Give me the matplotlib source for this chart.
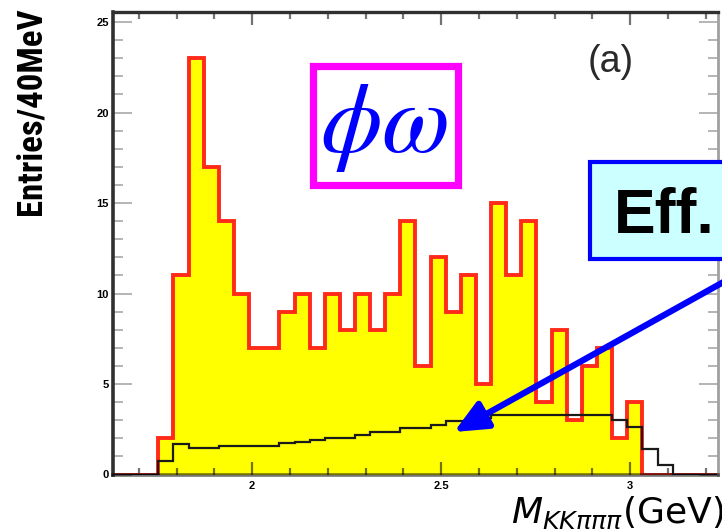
import matplotlib
matplotlib.use("Agg")
import matplotlib.pyplot as plt
from matplotlib import font_manager as fm
from matplotlib.patches import Rectangle
import numpy as np

# 40 MeV bins over the full axis range
BIN_LO, BIN_W, NBINS = 1.632, 0.04, 40
# phi-omega candidates per bin (bins 3..34 non-empty)
counts = [0, 0, 0,
          2, 11, 23, 17, 14, 10, 7, 7, 9, 10, 7, 10, 8, 10, 8, 10,
          14, 6, 12, 9, 11, 5, 15, 11, 14, 4, 8, 3, 6, 7, 2, 4,
          0, 0, 0, 0, 0]
# scaled efficiency curve (bins 3..36 non-empty)
eff = [0, 0, 0,
       0.77, 1.66, 1.47, 1.47, 1.60, 1.60, 1.60, 1.60, 1.75, 1.80,
       1.90, 2.00, 2.00, 2.18, 2.36, 2.36, 2.55, 2.55, 2.73, 2.96,
       2.96, 3.14, 3.29, 3.30, 3.30, 3.30, 3.28, 3.30, 3.30, 3.29,
       3.00, 2.60, 1.43, 0.50,
       0, 0, 0]
xticks_major = [2.0, 2.5, 3.0]
xtick_labels = ["2", "2.5", "3"]
yticks_major = [0, 5, 10, 15, 20, 25]

YELLOW, RED, BLUE, MAGENTA = "#ffff00", "#ff2a1a", "#0000ff", "#ff00ff"
SANS = ["Liberation Sans", "DejaVu Sans"]
W, H = 722, 530


def narrow_font():
    # the y title is a squeezed Helvetica; use a narrow face if one exists
    for name, size in [("Liberation Sans Narrow", 26), ("Roboto Condensed", 25)]:
        try:
            fm.findfont(fm.FontProperties(family=name, weight="bold"),
                        fallback_to_default=False)
            return dict(family=[name] + SANS, fontsize=size)
        except ValueError:
            pass
    f = fm.findfont(fm.FontProperties(family="DejaVu Sans", stretch="condensed",
                                      weight="bold"))
    if "Condensed" in f:
        return dict(family=["DejaVu Sans"], fontstretch="condensed", fontsize=21)
    return dict(family=SANS, fontsize=21)


edges = BIN_LO + BIN_W * np.arange(NBINS + 1)

fig = plt.figure(figsize=(W / 100, H / 100), dpi=100)
ax = fig.add_axes([113 / W, 1 - 474.5 / H, 605 / W, 462.8 / H])
ax.set_xlim(edges[0], edges[-1])
ax.set_ylim(0, 25.57)


def px(x, y):
    # pixel (from top-left) -> axes fraction, for annotation placement
    return (x - 113) / 605, (474.5 - y) / 462.8


ax.stairs(counts, edges, fill=True, color=YELLOW, zorder=1)
ax.stairs(counts, edges, color=RED, lw=2.8, zorder=2)
ax.stairs(eff, edges, color="#1a1a1a", lw=1.6, baseline=None, zorder=2.2)

# ROOT-like frame
ax.set_xticks(xticks_major)
ax.set_xticklabels(xtick_labels)
ax.set_xticks(np.arange(1.7, 3.25, 0.1), minor=True)
ax.set_yticks(yticks_major)
ax.set_yticks(np.arange(0, 26, 1), minor=True)
ax.tick_params(axis="x", which="both", direction="in", top=True,
               color=(0, 0, 0, 0.55), width=1.6, pad=5)
ax.tick_params(axis="x", which="major", length=9.5)
ax.tick_params(axis="x", which="minor", length=5)
ax.tick_params(axis="y", which="both", direction="in", right=True,
               color="#a8a8a8", width=1.2, pad=3)
ax.tick_params(axis="y", which="major", length=14)
ax.tick_params(axis="y", which="minor", length=7)
for lab in ax.get_xticklabels() + ax.get_yticklabels():
    lab.set_family(SANS)
    lab.set_fontsize(8)
    lab.set_fontweight("bold")
ax.spines["bottom"].set_color((0, 0, 0, 0.55))
ax.spines["bottom"].set_linewidth(2.6)
ax.spines["left"].set_color("#303030")
ax.spines["left"].set_linewidth(2.6)
ax.spines["top"].set_color("#303030")
ax.spines["top"].set_linewidth(2.4)
ax.spines["right"].set_color("#a0a0a0")
ax.spines["right"].set_linewidth(2.0)

# phi-omega label box
x0, y0 = px(312.5, 184.5)
x1, y1 = px(457.5, 65.5)
ax.add_patch(Rectangle((x0, y0), x1 - x0, y1 - y0, transform=ax.transAxes,
                       fc="white", ec=MAGENTA, lw=5.2, zorder=5))
plt.rcParams["mathtext.fontset"] = "stix"
ax.text(*px(384, 152), r"$\phi\omega$", transform=ax.transAxes,
        ha="center", va="baseline", fontsize=71, color=BLUE, zorder=6)

ax.text(*px(611, 62), "(a)", transform=ax.transAxes, ha="center",
        va="center", fontsize=27, color="#2a2a2a", family=SANS, zorder=6)

# efficiency box (runs off the right edge of the picture)
ex0, ey0 = px(590, 259)
ex1, ey1 = px(800, 162)
ax.add_patch(Rectangle((ex0, ey0), ex1 - ex0, ey1 - ey0, transform=ax.transAxes,
                       fc="#ccffff", ec=BLUE, lw=3, zorder=5, clip_on=False))
ax.text(*px(614, 233), "Eff.", transform=ax.transAxes, ha="left",
        va="baseline", fontsize=45, fontweight="bold", color="black",
        family=SANS, zorder=6, clip_on=False)

ax.annotate("", xy=px(454, 432), xycoords="axes fraction",
            xytext=px(790, 245), textcoords="axes fraction",
            arrowprops=dict(arrowstyle="-|>,head_length=1.0,head_width=0.45",
                            color=BLUE, lw=4.5, mutation_scale=20,
                            shrinkA=0, shrinkB=0),
            annotation_clip=False, zorder=7)

fig.text(31 / W, 1 - 7 / H, "Entries/40MeV", rotation=90, ha="center",
         va="top", fontweight="bold", **narrow_font())

plt.rcParams["mathtext.fontset"] = "dejavusans"
fig.text(724 / W, 1 - 523 / H, r"$M_{KK\pi\pi\pi}$(GeV)", ha="right",
         va="baseline", fontsize=26, family=["DejaVu Sans"])

fig.savefig("out.png", dpi=100)
